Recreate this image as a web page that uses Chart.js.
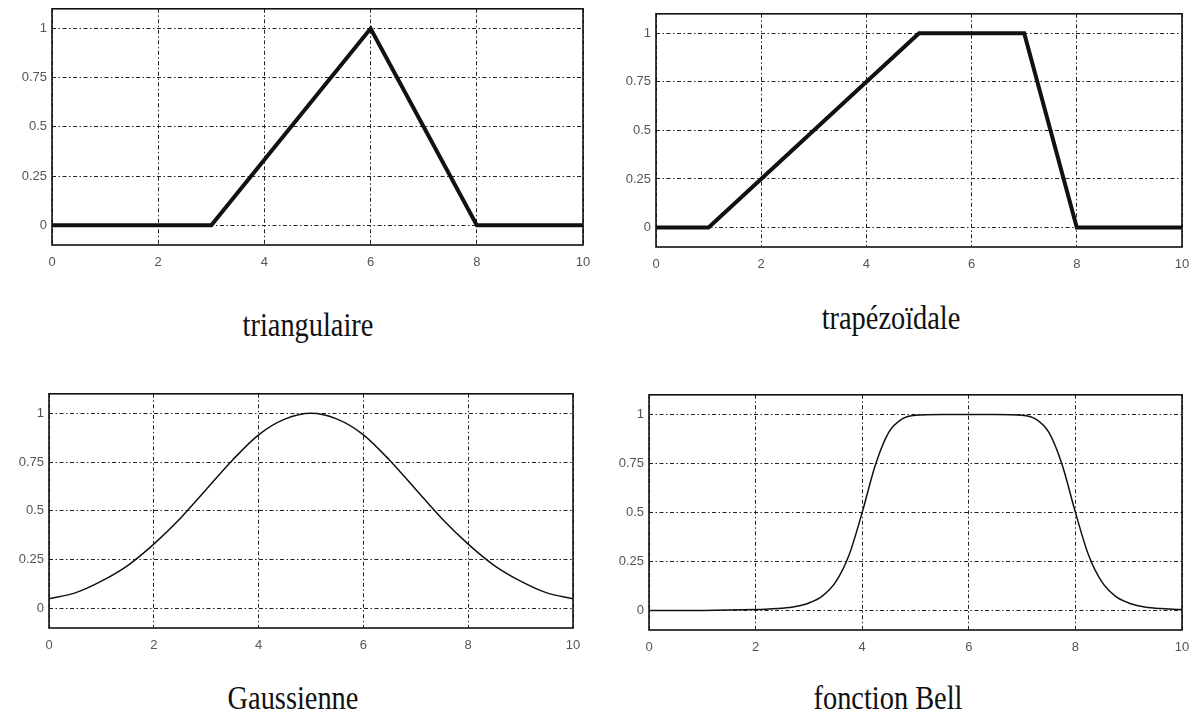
<!DOCTYPE html>
<html>
<head>
<meta charset="utf-8">
<script src="https://cdn.jsdelivr.net/npm/chart.js@4"></script>
<style>
  body { margin: 0; background: #fff; width: 1197px; height: 720px; position: relative; overflow: hidden; }
  canvas { position: absolute; }
  .cap { position: absolute; font-family: "Liberation Serif", serif; font-size: 33px; color: #111;
         transform: translate(-50%, -50%) scaleX(0.86); white-space: nowrap; }
</style>
</head>
<body>
<canvas id="c1"></canvas>
<canvas id="c2"></canvas>
<canvas id="c3"></canvas>
<canvas id="c4"></canvas>
<div class="cap" style="left:308px;top:325px">triangulaire</div>
<div class="cap" style="left:891px;top:318px">trapézoïdale</div>
<div class="cap" style="left:293px;top:698px">Gaussienne</div>
<div class="cap" style="left:888px;top:698px">fonction Bell</div>
<script>
// données
var triX = [0, 3, 6, 8, 10];
var triY = [0, 0, 1, 0, 0];

var trapX = [0, 1, 5, 7, 8, 10];
var trapY = [0, 0, 1, 1, 0, 0];

var gaussX = [0, 0.5, 1, 1.5, 2, 2.5, 3, 3.5, 4, 4.5, 5, 5.5, 6, 6.5, 7, 7.5, 8, 8.5, 9, 9.5, 10];
var gaussY = [0.05, 0.08, 0.14, 0.22, 0.33, 0.46, 0.61, 0.76, 0.89, 0.97, 1, 0.97, 0.89, 0.76, 0.61, 0.46, 0.33, 0.22, 0.14, 0.08, 0.05];

var bellX = [0, 1, 2, 2.25, 2.5, 2.75, 3, 3.25, 3.5, 3.75, 4, 4.25, 4.5, 4.75, 5, 5.5, 6, 6.5, 7, 7.25, 7.5, 7.75, 8, 8.25, 8.5, 8.75, 9, 9.25, 9.5, 9.75, 10];
var bellY = [0, 0, 0.004, 0.007, 0.011, 0.02, 0.038, 0.073, 0.144, 0.28, 0.5, 0.744, 0.909, 0.977, 0.996, 1, 1, 1, 0.996, 0.977, 0.909, 0.744, 0.5, 0.28, 0.144, 0.073, 0.038, 0.02, 0.011, 0.007, 0.004];

var xTicks = [0, 2, 4, 6, 8, 10];
var yTicks = [0, 0.25, 0.5, 0.75, 1];

// cadre noir autour de la zone de tracé
var boxPlugin = {
    id: 'box',
    afterDraw: function (chart) {
        var a = chart.chartArea;
        var ctx = chart.ctx;
        ctx.save();
        ctx.strokeStyle = '#111';
        ctx.lineWidth = 1.6;
        ctx.strokeRect(a.left, a.top, a.right - a.left, a.bottom - a.top);
        ctx.restore();
    }
};

function makePanel(id, xs, ys, lw, smooth, box) {
    var padL = 55, padT = 10, padR = 20, padB = 35;
    var cv = document.getElementById(id);
    cv.width = box.r - box.l + padL + padR;
    cv.height = box.b - box.t + padT + padB;
    cv.style.left = (box.l - padL) + 'px';
    cv.style.top = (box.t - padT) + 'px';

    var pts = xs.map(function (x, i) { return { x: x, y: ys[i] }; });

    return new Chart(cv, {
        type: 'scatter',
        data: {
            datasets: [{
                data: pts,
                showLine: true,
                borderColor: '#111',
                borderWidth: lw,
                pointRadius: 0,
                cubicInterpolationMode: smooth ? 'monotone' : 'default',
                tension: 0
            }]
        },
        plugins: [boxPlugin],
        options: {
            responsive: false,
            animation: false,
            devicePixelRatio: 1,
            layout: { padding: { top: padT, right: padR, left: 0, bottom: 0 } },
            plugins: { legend: { display: false }, tooltip: { enabled: false } },
            scales: {
                x: {
                    type: 'linear',
                    min: 0,
                    max: 10,
                    afterBuildTicks: function (s) { s.ticks = xTicks.map(function (v) { return { value: v }; }); },
                    afterFit: function (s) { s.height = padB; },
                    grid: { color: '#222', lineWidth: 1, drawTicks: false },
                    border: { display: false, dash: [4, 2.5, 1.5, 2.5] },
                    ticks: {
                        padding: 10, color: '#555', maxRotation: 0,
                        font: { family: 'Liberation Sans', size: 13 },
                        callback: function (v) { return String(v); }
                    }
                },
                y: {
                    min: -0.1,
                    max: 1.1,
                    afterBuildTicks: function (s) { s.ticks = yTicks.map(function (v) { return { value: v }; }); },
                    afterFit: function (s) { s.width = padL; },
                    grid: { color: '#222', lineWidth: 1, drawTicks: false },
                    border: { display: false, dash: [4, 2.5, 1.5, 2.5] },
                    ticks: {
                        padding: 5, color: '#555',
                        font: { family: 'Liberation Sans', size: 13 },
                        callback: function (v) { return String(v); }
                    }
                }
            }
        }
    });
}

makePanel('c1', triX, triY, 4, false, { l: 52, t: 6, r: 583, b: 245 });
makePanel('c2', trapX, trapY, 4, false, { l: 656, t: 11, r: 1182, b: 247 });
makePanel('c3', gaussX, gaussY, 1.5, true, { l: 49, t: 391, r: 573, b: 628 });
makePanel('c4', bellX, bellY, 1.5, true, { l: 649, t: 392, r: 1182, b: 630 });
</script>
</body>
</html>
